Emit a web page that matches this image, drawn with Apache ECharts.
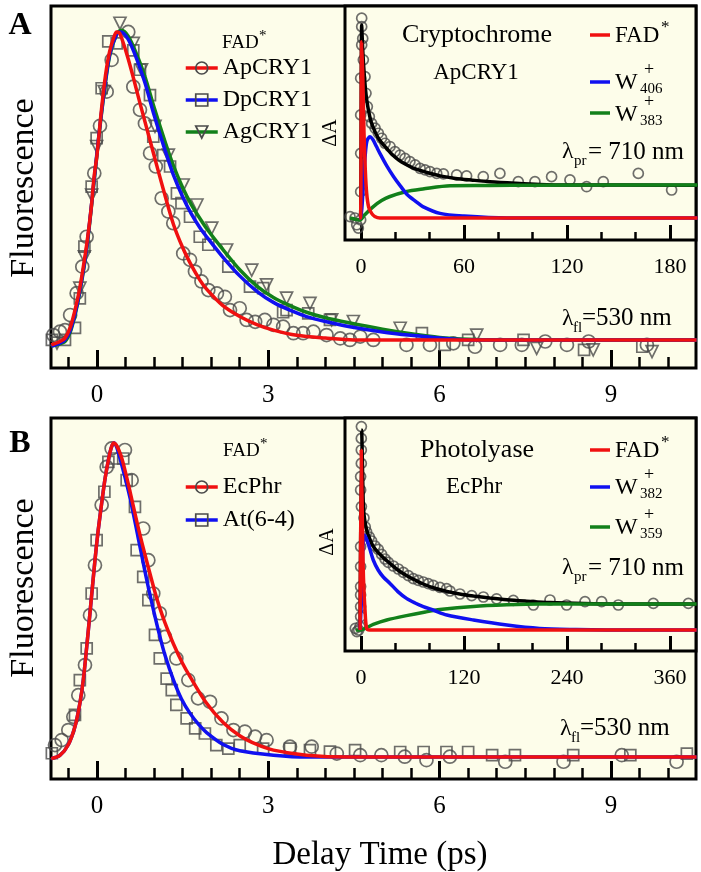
<!DOCTYPE html>
<html><head><meta charset="utf-8">
<script src="https://cdn.jsdelivr.net/npm/echarts@6/dist/echarts.min.js"></script>
<style>html,body{margin:0;padding:0;background:#fff}#c{width:701px;height:872px}</style>
</head><body><div id="c"></div>
<script>
// ---------------- DATA ----------------
// Panel A main (t in ps, normalized fluorescence)
const fitApCRY1 = [[-0.8,-0.016],[-0.65,-0.005],[-0.56,0.006],[-0.47,0.04],[-0.385,0.097],[-0.3,0.17],[-0.18,0.31],[-0.1,0.43],[-0.05,0.53],[0,0.6],[0.08,0.75],[0.15,0.86],[0.22,0.935],[0.3,0.985],[0.345,1.0],[0.4,0.995],[0.55,0.91],[0.78,0.75],[1.02,0.585],[1.16,0.49],[1.34,0.375],[1.5,0.3],[1.63,0.25],[1.8,0.195],[1.92,0.165],[2.2,0.112],[2.5,0.076],[2.8,0.05],[3.09,0.032],[3.5,0.015],[4.0,0.006],[4.5,0.0],[10.5,0.0]];
const fitDpCRY1 = [[-0.8,-0.02],[-0.65,-0.01],[-0.56,0.0],[-0.47,0.03],[-0.385,0.085],[-0.3,0.16],[-0.18,0.3],[-0.05,0.52],[0.08,0.74],[0.22,0.925],[0.35,0.995],[0.42,1.0],[0.55,0.975],[0.7,0.91],[0.84,0.835],[1.0,0.73],[1.19,0.617],[1.34,0.535],[1.5,0.465],[1.65,0.41],[1.8,0.365],[1.92,0.335],[2.2,0.27],[2.5,0.208],[2.8,0.158],[3.09,0.122],[3.4,0.095],[3.67,0.076],[4.0,0.06],[4.43,0.043],[5.0,0.026],[5.5,0.015],[6.0,0.006],[6.5,0.0],[10.5,0.0]];
const fitAgCRY1 = [[-0.8,-0.02],[-0.56,-0.005],[-0.47,0.025],[-0.385,0.08],[-0.3,0.155],[-0.18,0.295],[-0.05,0.515],[0.08,0.735],[0.22,0.92],[0.35,0.995],[0.43,1.005],[0.55,0.985],[0.7,0.925],[0.84,0.855],[1.0,0.755],[1.19,0.645],[1.34,0.565],[1.5,0.495],[1.65,0.44],[1.8,0.395],[1.92,0.362],[2.2,0.295],[2.5,0.228],[2.8,0.175],[3.09,0.138],[3.4,0.11],[3.67,0.09],[4.0,0.072],[4.43,0.055],[5.0,0.035],[5.5,0.02],[6.0,0.008],[6.5,0.002],[7.0,0.0],[10.5,0.0]];
const ptsApCRY1 = [[-0.765,0.016],[-0.648,0.027],[-0.56,0.032],[-0.47,0.081],[-0.356,0.152],[-0.257,0.238],[-0.181,0.335],[-0.047,0.541],[0.053,0.695],[0.17,0.806],[0.257,0.909],[0.548,1.0],[0.636,0.822],[0.753,0.747],[0.84,0.703],[0.93,0.606],[1.03,0.563],[1.133,0.46],[1.25,0.417],[1.336,0.379],[1.51,0.281],[1.63,0.26],[1.716,0.222],[1.83,0.19],[1.95,0.162],[2.10,0.151],[2.24,0.14],[2.33,0.097],[2.50,0.103],[2.62,0.065],[2.77,0.059],[2.94,0.065],[3.09,0.049],[3.26,0.043],[3.44,0.022],[3.61,0.022],[3.79,0.027],[4.02,0.016],[4.26,0.005],[4.43,0.0],[4.61,0.011],[4.84,0.0],[5.42,-0.016],[5.83,-0.016],[6.24,-0.011],[6.62,-0.022],[7.06,-0.016],[7.44,-0.016],[7.85,-0.005],[8.23,-0.016],[8.61,-0.005],[9.63,-0.016]];
const ptsDpCRY1 = [[-0.79,0.0],[-0.56,0.0],[-0.385,0.039],[-0.3,0.135],[-0.22,0.303],[-0.093,0.498],[-0.006,0.655],[0.082,0.817],[0.198,0.969],[0.345,0.963],[0.636,0.94],[0.753,0.877],[0.928,0.795],[0.986,0.66],[1.16,0.6],[1.28,0.563],[1.40,0.476],[1.48,0.444],[1.63,0.40],[1.80,0.335],[1.95,0.309],[2.30,0.238],[2.68,0.173],[2.91,0.168],[3.26,0.09],[3.32,0.097],[3.70,0.086],[4.08,0.065],[5.69,0.022],[6.09,-0.016],[6.50,0.0],[7.47,0.0],[8.53,-0.032],[9.55,-0.022]];
const ptsAgCRY1 = [[-0.7,-0.01],[-0.3,0.168],[-0.22,0.27],[-0.093,0.47],[-0.006,0.628],[0.127,0.806],[0.403,1.028],[0.636,0.963],[0.78,0.877],[1.016,0.693],[1.25,0.60],[1.51,0.503],[1.75,0.438],[2.01,0.363],[2.27,0.292],[2.71,0.227],[2.97,0.179],[3.32,0.136],[3.73,0.119],[4.11,0.065],[4.49,0.06],[5.31,0.038],[6.65,0.016],[7.70,-0.027],[8.69,-0.032],[9.72,-0.038]];

// Panel A inset (delay in ps, ΔA normalized)
const fitBlackA = [[-1,0],[-0.3,0],[0.4,1.0],[1,0.87],[2,0.73],[3,0.635],[4,0.575],[5,0.53],[6,0.495],[8,0.45],[10,0.415],[12,0.39],[15,0.36],[18,0.33],[22,0.3],[26,0.278],[30,0.26],[35,0.245],[40,0.232],[46,0.218],[55,0.205],[65,0.196],[75,0.188],[90,0.18],[104,0.174],[120,0.171],[196,0.17]];
const fitRedA = [[-1,0],[-0.3,0],[0.4,0.913],[1,0.75],[1.75,0.44],[2.5,0.25],[3.3,0.128],[4.5,0.055],[6.2,0.024],[8,0.008],[11,0],[196,0]];
const fitBlueA = [[-1,0],[-0.3,0],[0.5,0.05],[1.5,0.2],[2.5,0.33],[3.5,0.4],[5.2,0.421],[7,0.405],[9,0.37],[11,0.335],[15,0.27],[19,0.214],[23,0.165],[27,0.12],[32,0.085],[36,0.059],[46,0.024],[60,0.01],[85,0],[196,0]];
const fitGreenA = [[-6.4,0],[-0.6,-0.01],[2,0.015],[7.2,0.059],[12,0.09],[16.5,0.11],[26,0.136],[36,0.15],[52,0.167],[75,0.168],[100,0.17],[196,0.171]];
const ptsInsetA = [[-6.4,0.007],[-3.5,0.0],[-2.5,-0.035],[-1.55,-0.052],[-0.2,-0.01],[-0.2,0.136],[-0.2,0.335],[-0.2,0.534],[-0.2,0.724],[0.4,0.896],[0.4,1.035],[0.4,0.991],[1.0,0.93],[1.36,0.819],[2.33,0.732],[2.91,0.646],[3.69,0.577],[4.85,0.525],[6.2,0.49],[8.2,0.465],[10.1,0.439],[12.0,0.413],[14.0,0.387],[16.9,0.37],[19.8,0.344],[22.7,0.326],[25.6,0.309],[28.5,0.292],[31.5,0.275],[34.4,0.257],[37.3,0.249],[40.2,0.24],[44.1,0.231],[48,0.228],[55.7,0.223],[61.5,0.218],[71.2,0.214],[80.9,0.231],[91.6,0.188],[101.3,0.188],[111.0,0.214],[121.7,0.197],[131.4,0.162],[141.1,0.188],[161.5,0.231],[180.9,0.145]];

// Panel B main
const fitEcPhr = [[-0.8,-0.005],[-0.65,0.005],[-0.5,0.04],[-0.385,0.097],[-0.3,0.17],[-0.24,0.245],[-0.18,0.35],[-0.123,0.458],[-0.035,0.627],[0.02,0.72],[0.082,0.808],[0.14,0.885],[0.2,0.946],[0.25,0.985],[0.29,1.0],[0.35,0.99],[0.42,0.96],[0.49,0.914],[0.58,0.845],[0.665,0.776],[0.75,0.71],[0.84,0.645],[0.93,0.583],[1.016,0.525],[1.1,0.475],[1.19,0.428],[1.34,0.36],[1.5,0.298],[1.63,0.256],[1.92,0.171],[2.21,0.11],[2.5,0.068],[2.8,0.04],[3.09,0.022],[3.67,0.006],[4.43,0.0],[10.5,0.0]];
const fitAt64 = [[-0.8,-0.005],[-0.65,0.005],[-0.5,0.04],[-0.385,0.097],[-0.3,0.17],[-0.24,0.245],[-0.18,0.35],[-0.123,0.458],[-0.035,0.627],[0.02,0.72],[0.082,0.808],[0.14,0.885],[0.2,0.946],[0.25,0.985],[0.3,1.0],[0.35,0.985],[0.45,0.92],[0.58,0.825],[0.72,0.70],[0.82,0.61],[0.9,0.54],[1.0,0.46],[1.1,0.385],[1.19,0.325],[1.34,0.245],[1.48,0.185],[1.63,0.139],[1.78,0.104],[1.92,0.078],[2.21,0.04],[2.5,0.02],[3.09,0.006],[3.67,0.0],[10.5,0.0]];
const ptsEcPhr = [[-0.735,0.038],[-0.618,0.054],[-0.502,0.086],[-0.414,0.128],[-0.327,0.197],[-0.21,0.293],[-0.122,0.452],[-0.035,0.611],[0.082,0.803],[0.17,0.924],[0.257,0.983],[0.49,0.978],[0.607,0.882],[0.81,0.728],[0.9,0.627],[0.986,0.521],[1.1,0.458],[1.19,0.383],[1.39,0.314],[1.60,0.245],[1.77,0.187],[1.98,0.176],[2.18,0.123],[2.39,0.086],[2.59,0.081],[2.77,0.065],[2.97,0.054],[3.38,0.033],[3.76,0.033],[4.20,0.011],[4.61,0.006],[4.98,0.006],[5.39,0.001],[5.77,-0.01],[6.18,0.001],[7.15,-0.015],[8.17,-0.015],[9.19,0.006],[10.15,-0.015]];
const ptsAt64 = [[-0.79,0.012],[-0.385,0.134],[-0.3,0.245],[-0.18,0.346],[-0.093,0.521],[-0.006,0.691],[0.13,0.845],[0.2,0.94],[0.316,0.951],[0.46,0.951],[0.52,0.882],[0.665,0.797],[0.695,0.659],[0.81,0.574],[0.9,0.5],[1.016,0.389],[1.1,0.314],[1.22,0.25],[1.31,0.213],[1.39,0.166],[1.57,0.123],[1.72,0.091],[1.89,0.075],[2.09,0.038],[2.30,0.027],[2.50,0.038],[2.91,0.027],[3.38,0.027],[3.73,0.022],[4.08,0.017],[4.52,0.022],[5.31,0.016],[5.72,0.016],[6.12,0.016],[6.50,0.016],[6.92,0.006],[7.32,0.006],[8.34,0.006],[9.34,0.006],[10.33,0.011]];

// Panel B inset
const fitBlackB = [[-1,0],[-0.5,0],[0.8,1.0],[2.7,0.63],[4,0.56],[6.6,0.5],[10,0.458],[14.3,0.418],[20,0.388],[26,0.362],[33.8,0.333],[43,0.3],[53,0.272],[63,0.25],[72.6,0.23],[85,0.21],[100,0.193],[115,0.18],[131,0.17],[150,0.16],[170,0.151],[193,0.144],[220,0.137],[260,0.132],[300,0.13],[391,0.13]];
const fitRedB = [[-1,0],[-0.5,0],[0.3,0.9],[1.9,0.467],[3,0.25],[4.7,0.1],[6.6,0.008],[10,0],[391,0]];
const fitBlueB = [[-1,0],[-0.5,0],[1,0.2],[2,0.38],[3.5,0.475],[6,0.46],[10,0.41],[14.3,0.35],[20,0.3],[26,0.265],[33.8,0.233],[43,0.192],[53,0.158],[63,0.135],[72.6,0.117],[84,0.1],[100,0.075],[131,0.05],[170,0.025],[208,0.008],[250,0.002],[286,0],[391,0]];
const fitGreenB = [[-6,0],[-1,0],[14.3,0.028],[30,0.05],[53,0.072],[75,0.09],[92,0.102],[131,0.118],[170,0.126],[208,0.13],[391,0.13]];
const ptsInsetB = [[-6.6,0.008],[-4.7,-0.008],[-2.7,0.0],[-1.2,0.017],[-0.4,0.067],[-0.4,0.117],[-0.4,0.175],[-0.4,0.217],[-0.4,0.317],[-0.4,0.417],[0.5,0.617],[-0.4,0.7],[-0.4,0.767],[0.4,0.833],[0.4,0.9],[0.4,0.958],[0.5,1.017],[3.5,0.56],[5.0,0.515],[6.6,0.49],[9.7,0.465],[12.4,0.445],[16.3,0.42],[20.2,0.403],[24.1,0.378],[28,0.355],[31.9,0.338],[37.7,0.32],[43.5,0.305],[49.4,0.288],[55.2,0.272],[61,0.257],[66.8,0.248],[72.6,0.24],[78.5,0.232],[84.3,0.223],[92,0.213],[99.8,0.207],[103.7,0.195],[115.3,0.18],[129,0.172],[142.6,0.165],[158,0.156],[177.5,0.148],[200.8,0.125],[220.2,0.15],[239.6,0.125],[261,0.142],[280.4,0.142],[299.8,0.125],[340.6,0.133],[381.4,0.133]];

// Tick values
const mainMajorTicks = [0, 3, 6, 9];
const mainMinorTicks = [-0.5, 0.5, 1, 1.5, 2, 2.5, 3.5, 4, 4.5, 5, 5.5, 6.5, 7, 7.5, 8, 8.5, 9.5, 10];
const insetAMajorTicks = [0, 60, 120, 180];
const insetAMinorTicks = [20, 40, 80, 100, 140, 160];
const insetBMajorTicks = [0, 120, 240, 360];
const insetBMinorTicks = [40, 80, 160, 200, 280, 320];

// ---------------- STYLE ----------------
const FONT = "'Liberation Serif','Times New Roman',serif";
const CREAM = '#fdfdea';
const RED = '#f01010', BLUE = '#1010f0', GREEN = '#12801a', BLACK = '#000';
const MK = {color: 'rgba(0,0,0,0)', borderColor: '#4a4a4a', borderWidth: 1.7};

const grids = [
  {left: 51, top: 6, width: 645, height: 362},
  {left: 345, top: 6, width: 351, height: 234},
  {left: 51, top: 418, width: 645, height: 361},
  {left: 345, top: 418, width: 351, height: 233}
].map(g => Object.assign(g, {show: true, outerBoundsMode: 'none', containLabel: false,
  backgroundColor: CREAM, borderColor: '#000', borderWidth: 3}));

// Per grid: one label axis at the bottom, plus two tick-only axes declared at 'top' but
// placed on the zero of a hidden helper y axis whose zero is the bottom edge; with
// outward ticks of a top axis, they point up into the frame.
function xSet(grid, min, max, minor, major, minorLen, majorLen, fs, margin) {
  const base = {type: 'value', gridIndex: grid, min, max, splitLine: {show: false}};
  return [
    Object.assign({}, base, {
      position: 'bottom',
      axisLine: {show: false, onZero: false},
      axisTick: {show: false},
      axisLabel: {show: true, customValues: major, fontFamily: FONT, fontSize: fs, color: '#000', margin}
    }),
    Object.assign({}, base, {
      position: 'top',
      axisLine: {show: false, onZero: true, onZeroAxisIndex: 4 + grid},
      axisTick: {show: true, inside: false, length: minorLen, customValues: minor, lineStyle: {color: '#000', width: 2.5}},
      axisLabel: {show: false}
    }),
    Object.assign({}, base, {
      position: 'top',
      axisLine: {show: false, onZero: true, onZeroAxisIndex: 8 + grid},
      axisTick: {show: true, inside: false, length: majorLen, customValues: major, lineStyle: {color: '#000', width: 3}},
      axisLabel: {show: false}
    })
  ];
}
const xAxes = [].concat(
  xSet(0, -0.805, 10.49, mainMinorTicks, mainMajorTicks, 11, 18, 25, 15),
  xSet(1, -9.32, 195.1, insetAMinorTicks, insetAMajorTicks, 8, 15, 22, 16),
  xSet(2, -0.805, 10.49, mainMinorTicks, mainMajorTicks, 11, 18, 25, 15),
  xSet(3, -18.6, 390.3, insetBMinorTicks, insetBMajorTicks, 8, 15, 22, 16)
);
// data x axis for grid g is index 3*g
const yAxes = [
  {gridIndex: 0, type: 'value', min: -0.091, max: 1.084, show: false},
  {gridIndex: 1, type: 'value', min: -0.114, max: 1.098, show: false},
  {gridIndex: 2, type: 'value', min: -0.07, max: 1.08, show: false},
  {gridIndex: 3, type: 'value', min: -0.105, max: 1.06, show: false}
];
for (let k = 0; k < 8; k++) {
  yAxes.push({gridIndex: k % 4, type: 'value', min: 0, max: 1, show: false});
}

function pts(name, data, xi, yi, symbol, size, rot) {
  return {type: 'scatter', name, data, xAxisIndex: xi, yAxisIndex: yi, symbol, symbolSize: size,
    symbolRotate: rot || 0, itemStyle: MK, z: 2, silent: true};
}
function fit(name, data, color, xi, yi, symbol, rot) {
  return {type: 'line', name, data, xAxisIndex: xi, yAxisIndex: yi, showSymbol: false,
    symbol: symbol || 'none', symbolSize: 12, symbolRotate: rot || 0, smooth: 0.3,
    itemStyle: MK, lineStyle: {color, width: 3.5}, z: 3, silent: true};
}

const series = [
  pts('ApCRY1 data', ptsApCRY1, 0, 0, 'circle', 13),
  pts('DpCRY1 data', ptsDpCRY1, 0, 0, 'rect', 11),
  pts('AgCRY1 data', ptsAgCRY1, 0, 0, 'triangle', 12, 180),
  fit('AgCRY1', fitAgCRY1, GREEN, 0, 0, 'triangle', 180),
  fit('DpCRY1', fitDpCRY1, BLUE, 0, 0, 'rect'),
  fit('ApCRY1', fitApCRY1, RED, 0, 0, 'circle'),

  pts('inset A data', ptsInsetA, 3, 1, 'circle', 10),
  fit('black A', fitBlackA, BLACK, 3, 1),
  fit('green A', fitGreenA, GREEN, 3, 1),
  fit('blue A', fitBlueA, BLUE, 3, 1),
  fit('red A', fitRedA, RED, 3, 1),

  pts('EcPhr data', ptsEcPhr, 6, 2, 'circle', 13),
  pts('At(6-4) data', ptsAt64, 6, 2, 'rect', 11),
  fit('At(6-4)', fitAt64, BLUE, 6, 2, 'rect'),
  fit('EcPhr', fitEcPhr, RED, 6, 2, 'circle'),

  pts('inset B data', ptsInsetB, 9, 3, 'circle', 10),
  fit('black B', fitBlackB, BLACK, 9, 3),
  fit('green B', fitGreenB, GREEN, 9, 3),
  fit('blue B', fitBlueB, BLUE, 9, 3),
  fit('red B', fitRedB, RED, 9, 3)
];

const legendCommon = {orient: 'vertical', padding: 0, itemWidth: 32, itemHeight: 15, selectedMode: false,
  textStyle: {fontFamily: FONT, fontSize: 24, color: '#000', lineHeight: 24},
  lineStyle: {width: 3.5},
  itemStyle: {color: 'rgba(0,0,0,0)', borderColor: '#4a4a4a', borderWidth: 1.7}};
const legends = [
  Object.assign({}, legendCommon, {left: 184, top: 56, itemGap: 8, data: ['ApCRY1', 'DpCRY1', 'AgCRY1']}),
  Object.assign({}, legendCommon, {left: 184, top: 475, itemGap: 9, data: ['EcPhr', 'At(6-4)']})
];

function T(x, y, text, size, o) {
  o = o || {};
  return {type: 'text', x, y, rotation: o.rot || 0, z: 100, silent: true,
    style: {text, fontSize: size, fontFamily: FONT, fontWeight: o.bold ? 'bold' : 'normal', fill: '#000',
      align: o.align || 'center', verticalAlign: 'middle'}};
}
function L(x1, x2, y, color) {
  return {type: 'line', z: 100, silent: true, shape: {x1, y1: y, x2, y2: y}, style: {stroke: color, lineWidth: 3.5}};
}
function W(x, y, sub) {
  return [T(x, y, 'W', 24, {align: 'left'}), T(x + 34, y - 13, '+', 18), T(x + 25, y + 6, sub, 15, {align: 'left'})];
}

const graphics = [
  T(20, 26, 'A', 32, {bold: true}),
  T(20, 444, 'B', 32, {bold: true}),
  T(24, 188, 'Fluorescence', 34, {rot: Math.PI / 2}),
  T(24, 588, 'Fluorescence', 34, {rot: Math.PI / 2}),
  T(380, 855, 'Delay Time (ps)', 33),
  // main legend titles
  T(222, 43, 'FAD', 19, {align: 'left'}), T(259, 36, '*', 15, {align: 'left'}),
  T(223, 451, 'FAD', 19, {align: 'left'}), T(260, 444, '*', 15, {align: 'left'}),
  // lambda fl
  T(562, 319, 'λ', 24, {align: 'left'}), T(573, 328, 'fl', 15, {align: 'left'}), T(582, 318, '=530 nm', 25, {align: 'left'}),
  T(560, 729, 'λ', 24, {align: 'left'}), T(571, 738, 'fl', 15, {align: 'left'}), T(580, 728, '=530 nm', 25, {align: 'left'}),
  // ΔA
  T(331, 133, 'ΔA', 20, {rot: Math.PI / 2}),
  T(328, 542, 'ΔA', 20, {rot: Math.PI / 2}),
  // inset A text
  T(477, 35, 'Cryptochrome', 26), T(476, 73, 'ApCRY1', 23),
  L(590, 610, 35, RED), L(590, 610, 82, BLUE), L(590, 610, 113, GREEN),
  T(615, 36, 'FAD', 23, {align: 'left'}), T(661, 28, '*', 17, {align: 'left'}),
  ...W(615, 83, '406'), ...W(615, 115, '383'),
  T(562, 152, 'λ', 24, {align: 'left'}), T(574, 161, 'pr', 15, {align: 'left'}), T(588, 152, '= 710 nm', 25, {align: 'left'}),
  // inset B text
  T(477, 450, 'Photolyase', 26), T(474, 487, 'EcPhr', 23),
  L(590, 610, 450, RED), L(590, 610, 487, BLUE), L(590, 610, 527, GREEN),
  T(615, 451, 'FAD', 23, {align: 'left'}), T(661, 443, '*', 17, {align: 'left'}),
  ...W(615, 488, '382'), ...W(615, 528, '359'),
  T(562, 568, 'λ', 24, {align: 'left'}), T(574, 577, 'pr', 15, {align: 'left'}), T(588, 568, '= 710 nm', 25, {align: 'left'})
];

const chart = echarts.init(document.getElementById('c'), null, {renderer: 'canvas'});
chart.setOption({
  animation: false,
  backgroundColor: '#fff',
  grid: grids,
  xAxis: xAxes,
  yAxis: yAxes,
  legend: legends,
  series,
  graphic: graphics
});
</script></body></html>
